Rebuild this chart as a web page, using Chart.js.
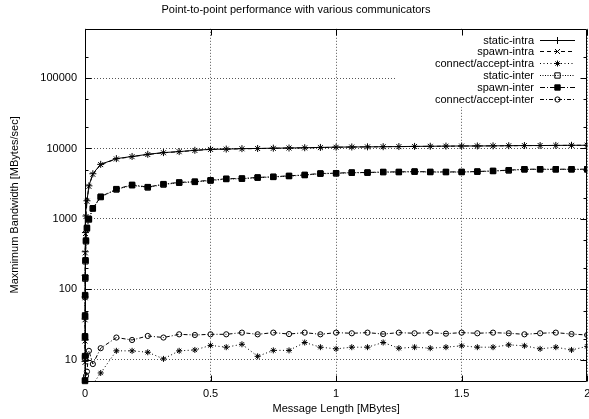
<!DOCTYPE html>
<html>
<head>
<meta charset="utf-8">
<script src="https://cdn.jsdelivr.net/npm/chart.js@4.4.1/dist/chart.umd.min.js"></script>
<style>
  html, body { margin: 0; padding: 0; background: #fff; overflow: hidden; }
  #wrap { position: relative; width: 592px; height: 419px; }
</style>
</head>
<body>
<div id="wrap"><canvas id="c"></canvas></div>
<script>
// Message lengths in MBytes: powers of two from 32 B to 64 KB, then 64 KB steps up to 2 MB
const msgLenMB = [0.0000305, 0.000061, 0.000122, 0.000244, 0.000488, 0.000977, 0.00195, 0.0039,
  0.0078, 0.0156, 0.03125, 0.0625,
  0.125, 0.1875, 0.25, 0.3125, 0.375, 0.4375, 0.5, 0.5625, 0.625, 0.6875, 0.75, 0.8125, 0.875, 0.9375,
  1.0, 1.0625, 1.125, 1.1875, 1.25, 1.3125, 1.375, 1.4375, 1.5, 1.5625, 1.625, 1.6875, 1.75, 1.8125,
  1.875, 1.9375, 2.0];

// Maximum bandwidth in MBytes/sec for each communicator type
const staticIntra = [9.5, 19, 38, 78, 158, 342, 640, 1100, 1810, 2950, 4380, 5950,
  7180, 7700, 8270, 8740, 9030, 9420, 9730, 9800, 9950, 10000, 10100, 10150, 10250, 10350,
  10450, 10500, 10550, 10600, 10650, 10700, 10750, 10800, 10850, 10850, 10900, 10950, 11000, 11000,
  11050, 11100, 11100];
const spawnIntra = [9.2, 18.5, 37, 76, 152, 330, 620, 1080, 1780, 2900, 4300, 5900,
  7100, 7650, 8200, 8700, 9000, 9380, 9700, 9780, 9900, 9980, 10050, 10150, 10200, 10300,
  10400, 10480, 10520, 10580, 10620, 10680, 10720, 10780, 10820, 10870, 10880, 10930, 10980, 11020,
  11030, 11080, 11120];
const connectIntra = [null, null, null, null, null, null, null, null, null, null, 4.5, 6.5,
  13.4, 13.4, 12.8, 10.3, 13.4, 13.8, 16.0, 15.1, 16.6, 11.2, 13.6, 13.6, 17.6, 15.1,
  14.3, 15.1, 15.1, 17.6, 14.6, 15.1, 14.6, 15.1, 15.8, 15.1, 15.1, 16.3, 15.8, 14.3,
  15.1, 13.8, 15.5];
const staticInter = [5.0, 10.8, 21, 41, 80, 142, 250, 480, 730, 980, 1400, 2040,
  2620, 3000, 2800, 3080, 3260, 3350, 3500, 3680, 3720, 3850, 3940, 4050, 4190, 4380,
  4430, 4520, 4530, 4610, 4620, 4680, 4630, 4620, 4630, 4680, 4780, 4890, 5040, 5050,
  5040, 5050, 5040];
const spawnInter = [5.1, 11.3, 21.6, 42.7, 83, 147, 259, 494, 750, 1000, 1420, 2070,
  2650, 3050, 2830, 3120, 3300, 3390, 3540, 3720, 3750, 3880, 3970, 4090, 4220, 4420,
  4460, 4560, 4560, 4650, 4650, 4710, 4650, 4650, 4650, 4710, 4810, 4920, 5080, 5080,
  5080, 5080, 5080];
const connectInter = [null, null, null, null, null, null, null, 5.9, 6.8, 13.4, 8.7, 14.6,
  20.7, 19.1, 21.8, 20.7, 23.0, 22.5, 23.0, 23.0, 24.3, 23.0, 24.3, 23.2, 24.3, 23.0,
  24.3, 23.8, 24.3, 23.2, 24.3, 23.8, 24.3, 23.5, 24.3, 23.8, 24.3, 23.8, 23.0, 23.8,
  24.3, 23.2, 22.5];

const seriesNames = ['static-intra', 'spawn-intra', 'connect/accept-intra',
  'static-inter', 'spawn-inter', 'connect/accept-inter'];

// Tick positions
const xTicks = [0, 0.5, 1, 1.5, 2];
const yTicks = [10, 100, 1000, 10000, 100000];
const yMinorTicks = [20, 50, 200, 500, 2000, 5000, 20000, 50000, 200000];

const FONT = '"Liberation Sans", Arial, Helvetica, sans-serif';
Chart.defaults.font.family = FONT;
Chart.defaults.font.size = 11;
Chart.defaults.color = '#000';

const toPoints = vals => msgLenMB.map((x, i) => ({ x: x, y: vals[i] }));

const styles = [
  { dash: [], point: 'cross', r: 3.5, fill: 'rgba(0,0,0,0)' },
  { dash: [4, 3], point: 'crossRot', r: 3.5, fill: 'rgba(0,0,0,0)' },
  { dash: [1, 2.5], point: 'star', r: 3, fill: 'rgba(0,0,0,0)' },
  { dash: [1, 1.5], point: 'rect', r: 3.8, fill: 'rgba(0,0,0,0)' },
  { dash: [5, 2, 1, 2], point: 'rect', r: 3.8, fill: '#000' },
  { dash: [4, 2, 1, 2], point: 'circle', r: 2.6, fill: 'rgba(0,0,0,0)' }
];
const values = [staticIntra, spawnIntra, connectIntra, staticInter, spawnInter, connectInter];

const datasets = values.map((vals, i) => ({
  label: seriesNames[i],
  data: toPoints(vals),
  borderColor: '#000',
  borderWidth: 1,
  borderDash: styles[i].dash,
  pointStyle: styles[i].point,
  pointRadius: styles[i].r,
  pointBorderWidth: 1,
  pointBorderColor: '#000',
  pointBackgroundColor: styles[i].fill,
  pointHoverRadius: styles[i].r,
  tension: 0,
  spanGaps: true,
  order: values.length - i,
  clip: i === 2 ? { left: 8, top: 0, right: 0, bottom: 0 } : { left: 8, top: 0, right: 0, bottom: 4 }
}));

// Key area (top right, inside the plot)
const key = { left: 395, bottom: 107, textRight: 534, lineFrom: 540, lineTo: 575, mark: 557.5, top: 39.5, step: 11.9 };

function drawMark(ctx, style, x, y, r, fill) {
  ctx.save();
  ctx.beginPath();
  const d = r * Math.SQRT1_2;
  if (style === 'cross' || style === 'star') {
    ctx.moveTo(x - r, y); ctx.lineTo(x + r, y);
    ctx.moveTo(x, y - r); ctx.lineTo(x, y + r);
  }
  if (style === 'crossRot' || style === 'star') {
    ctx.moveTo(x - d, y - d); ctx.lineTo(x + d, y + d);
    ctx.moveTo(x - d, y + d); ctx.lineTo(x + d, y - d);
  }
  if (style === 'rect') {
    ctx.rect(x - d, y - d, 2 * d, 2 * d);
    ctx.fillStyle = fill; ctx.fill();
  }
  if (style === 'circle') {
    ctx.arc(x, y, r, 0, Math.PI * 2);
  }
  ctx.stroke();
  ctx.restore();
}

const gnuFrame = {
  id: 'gnuFrame',
  beforeDatasetsDraw(chart) {
    const { ctx, chartArea: a } = chart;
    ctx.save();
    ctx.fillStyle = '#fff';
    ctx.fillRect(key.left, a.top + 1, a.right - key.left - 1, key.bottom - a.top - 1);
    ctx.restore();
  },
  afterDatasetsDraw(chart) {
    const { ctx, chartArea: a, scales } = chart;
    const xs = scales.x, ys = scales.y;
    ctx.save();
    ctx.strokeStyle = '#000';
    ctx.lineWidth = 1;
    ctx.setLineDash([]);
    const L = Math.round(a.left) + 0.5, R = Math.round(a.right) - 0.5;
    const T = Math.round(a.top) + 0.5, B = Math.round(a.bottom) + 0.5;
    ctx.beginPath();
    ctx.rect(L, T, R - L, B - T);
    // major ticks on all sides, pointing inward
    yTicks.forEach(v => {
      const p = Math.round(ys.getPixelForValue(v)) + 0.5;
      ctx.moveTo(L, p); ctx.lineTo(L + 6, p);
      ctx.moveTo(R, p); ctx.lineTo(R - 6, p);
    });
    yMinorTicks.forEach(v => {
      const p = Math.round(ys.getPixelForValue(v)) + 0.5;
      ctx.moveTo(L, p); ctx.lineTo(L + 3, p);
      ctx.moveTo(R, p); ctx.lineTo(R - 3, p);
    });
    xTicks.forEach(v => {
      const p = Math.round(xs.getPixelForValue(v)) + 0.5;
      ctx.moveTo(p, B); ctx.lineTo(p, B - 6);
      ctx.moveTo(p, T); ctx.lineTo(p, T + 6);
    });
    ctx.stroke();

    // key: right-aligned label, then a line sample with the point marker
    ctx.font = '11px ' + FONT;
    ctx.textAlign = 'right';
    ctx.textBaseline = 'middle';
    chart.data.datasets.forEach((ds, i) => {
      const y = Math.round(key.top + i * key.step) + 0.5;
      ctx.fillStyle = '#000';
      ctx.fillText(ds.label, key.textRight, y);
      ctx.setLineDash(ds.borderDash);
      ctx.beginPath();
      ctx.moveTo(key.lineFrom, y); ctx.lineTo(key.lineTo, y);
      ctx.stroke();
      ctx.setLineDash([]);
      drawMark(ctx, ds.pointStyle, key.mark, y, ds.pointRadius, ds.pointBackgroundColor);
    });
    ctx.restore();
  }
};

new Chart(document.getElementById('c'), {
  type: 'line',
  data: { datasets: datasets },
  plugins: [gnuFrame],
  options: {
    responsive: true,
    maintainAspectRatio: false,
    animation: false,
    events: [],
    layout: { padding: 0 },
    plugins: {
      legend: { display: false },
      tooltip: { enabled: false },
      title: {
        display: true,
        text: 'Point-to-point performance with various communicators',
        font: { size: 11, weight: 'normal' },
        color: '#000',
        padding: { top: 3, bottom: 12.6 }
      }
    },
    scales: {
      x: {
        type: 'linear',
        min: 0, max: 2,
        afterBuildTicks: s => { s.ticks = xTicks.map(v => ({ value: v })); },
        afterFit: s => { s.height = 38; s.paddingLeft = 0; s.paddingRight = 0; },
        ticks: { padding: 6.7, maxRotation: 0, autoSkip: false, callback: v => String(v) },
        grid: { color: '#555', lineWidth: 1, drawTicks: false },
        border: { display: false, dash: [1, 2] },
        title: { display: true, text: 'Message Length [MBytes]', font: { size: 11 }, padding: { top: 0, bottom: 3.4 } }
      },
      y: {
        type: 'logarithmic',
        min: 5, max: 500000,
        afterBuildTicks: s => { s.ticks = yTicks.map(v => ({ value: v })); },
        afterFit: s => { s.width = 85; },
        ticks: { padding: 8, autoSkip: false, callback: v => String(v) },
        grid: { color: '#555', lineWidth: 1, drawTicks: false },
        border: { display: false, dash: [1, 2] },
        title: { display: true, text: 'Maxmimum Bandwidth [MBytes/sec]', font: { size: 11 }, padding: { top: 8.4, bottom: 0 } }
      }
    }
  }
});
</script>
</body>
</html>
